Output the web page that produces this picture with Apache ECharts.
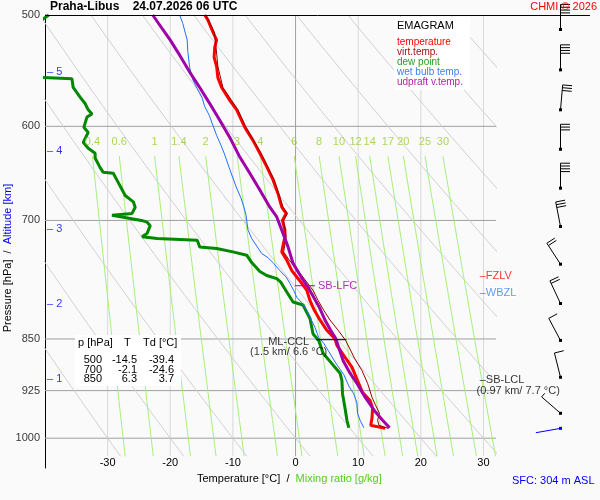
<!DOCTYPE html>
<html>
<head>
<meta charset="utf-8">
<script src="https://cdn.jsdelivr.net/npm/echarts@6/dist/echarts.min.js"></script>
<style>
  html, body { margin: 0; padding: 0; background: #fafafa; }
  #chart { width: 600px; height: 500px; }
</style>
</head>
<body>
<div id="chart"></div>
<script>
// ---- sounding: pressure [hPa] and temperature [°C] ----
var tempP = [500,504,514,521,527,536,544,554,563,575,584,601,614,627,641,655,670,685,692,700,711,719,729,737,747,760,772,785,798,811,824,838,850,859,876,890,910,928,940,952,968,979,984];
var tempT = [-14.5,-14.0,-13.2,-12.6,-12.9,-13.0,-12.6,-12.4,-11.8,-10.5,-9.4,-8.1,-6.8,-5.7,-4.6,-3.6,-2.8,-2.2,-1.5,-2.1,-1.7,-1.7,-2.0,-2.2,-1.4,-0.6,0.6,1.8,2.3,3.0,3.9,5.0,6.3,6.6,7.9,9.0,9.9,10.7,11.9,12.3,12.2,12.0,14.3];

var virtP = [500,514,527,544,563,584,601,627,655,685,692,700,719,737,747,760,785,798,811,824,838,852,877,895,914,935,948,960,971,979,984];
var virtT = [-14.3,-13.0,-12.7,-12.4,-11.6,-9.2,-7.9,-5.5,-3.4,-2.0,-1.3,-1.9,-1.5,-1.9,-1.0,0.4,2.8,3.6,4.5,5.5,6.8,8.0,9.4,10.6,11.5,12.2,12.8,13.4,13.1,13.3,14.8];

var dewP = [500,506,530,553,555,563,572,578,584,588,591,601,606,616,622,627,632,642,647,648,658,672,679,685,692,694,696,700,702,706,715,719,721,723,731,733,737,741,750,761,766,770,774,787,800,804,814,822,843,852,870,885,899,910,930,952,971,983];
var dewT = [-39.4,-41,-43,-44,-35.7,-35.5,-34.4,-33.6,-33.1,-32.5,-33.3,-33.8,-33.1,-33.9,-33.1,-32.0,-32.0,-31.2,-30.7,-29.1,-28.3,-27.2,-25.9,-25.6,-26.1,-29.3,-29.6,-24.6,-23.7,-23.2,-23.7,-24.5,-22.1,-15.7,-15.3,-12.6,-10.0,-7.8,-7.0,-5.7,-4.6,-3.0,-2.4,-1.4,-0.4,1.2,1.8,2.3,2.8,3.7,4.4,5.8,7.1,7.4,7.5,7.9,8.2,8.5];

var wetP = [500,507,521,531,545,556,564,573,581,589,599,609,619,627,642,653,664,675,686,694,700,711,721,730,739,744,751,760,768,776,785,794,801,811,820,834,848,856,866,884,901,918,930,944,960,971,983];
var wetT = [-18.5,-18.0,-17.3,-17.2,-16.9,-16.4,-15.7,-14.9,-14.5,-13.8,-13.2,-12.6,-11.9,-11.4,-10.6,-10.0,-9.4,-8.7,-8.2,-7.9,-7.8,-7.6,-7.0,-6.2,-5.4,-4.4,-3.5,-2.5,-1.5,-0.9,-0.3,0.2,1.0,1.8,2.3,3.1,3.7,4.5,5.2,6.4,7.7,8.5,9.3,9.8,9.9,10.3,10.9];

var parcelP = [500,512,521,534,549,563,578,594,611,631,648,666,685,696,715,731,751,768,781,794,807,824,838,849,881,899,914,935,956,971,983];
var parcelT = [-22.8,-21.2,-20.0,-18.5,-16.9,-15.3,-13.7,-12.1,-10.5,-8.9,-7.3,-5.7,-4.1,-3.0,-2.0,-1.2,-0.4,0.9,2.0,2.9,3.8,4.7,5.6,6.4,7.6,8.7,9.8,11.1,12.6,13.9,15.0];

// ---- wind (0.5 km steps from surface) ----
var barbP   = [984,960,905,852,802,752,707,664,623,584,547,512];
var barbDir = [260,311,346,332,335,327,349,0,0,5,0,0];
var barbSpd = [2,5,10,10,20,20,30,40,30,30,40,40];

// ---- altitude marks ----
var altKm = [1,2,3,4,5];
var altP  = [907,803,710,625,549];

// ---- table ----
var tableP  = [500,700,850];
var tableT  = [-14.5,-2.1,6.3];
var tableTd = [-39.4,-24.6,3.7];

// ---- diagram background ----
var isobars   = [500,600,700,850,925,1000];
var isotherms = [-30,-20,-10,0,10,20,30];
var thetaC    = [-30,-20,-10,0,10,20,30,40,50,60,70,80,90,100];
var mixRatios = [0.4,0.6,1,1.4,2,3,4,6,8,10,12,14,17,20,25,30];

// ---- levels ----
var fzlvP = 767, wbzlP = 788, sbLfcP = 779, mlCclP = 851, sbLclP = 909;

var FONT = 'Liberation Sans, Arial, sans-serif';

function zip(ts, ps) { return ts.map(function (t, i) { return [t, ps[i]]; }); }
function dryAdiabat(thC, p) { return (thC + 273.15) * Math.pow(p / 1000, 0.2857) - 273.15; }
function mixTemp(w, p) {
  var e = w * p / (622 + w);
  var a = Math.log(e / 6.112);
  return 243.5 * a / (17.67 - a);
}
var pSteps = [];
for (var p = 500; p <= 1030; p += 10) pSteps.push(p);

var series = [];

isotherms.forEach(function (t) {
  series.push({ type: 'line', data: [[t, 500], [t, 1030]], symbol: 'none', silent: true, z: 1,
    lineStyle: { color: t === 0 ? '#a0a0a0' : '#d8d8d8', width: 1 } });
});
isobars.slice(1).forEach(function (pp) {
  series.push({ type: 'line', data: [[-40, pp], [32, pp]], symbol: 'none', silent: true, z: 1,
    lineStyle: { color: '#a0a0a0', width: 1 } });
});
thetaC.forEach(function (th) {
  series.push({ type: 'line', symbol: 'none', silent: true, z: 1,
    data: pSteps.map(function (pp) { return [dryAdiabat(th, pp), pp]; }),
    lineStyle: { color: '#d0d0d0', width: 1 } });
});
mixRatios.forEach(function (w) {
  series.push({ type: 'line', symbol: 'none', silent: true, z: 1,
    data: pSteps.filter(function (pp) { return pp >= 630; }).map(function (pp) { return [mixTemp(w, pp), pp]; }),
    lineStyle: { color: '#a6f07a', width: 1 } });
});

// labels
series.push({ type: 'scatter', symbolSize: 0, silent: true, clip: false, z: 5,
  data: mixRatios.map(function (w) { return { name: String(w), value: [mixTemp(w, 630), 615.7] }; }),
  label: { show: true, position: 'inside', formatter: '{b}', color: '#99cc33', fontSize: 11, fontFamily: FONT } });
series.push({ type: 'scatter', symbolSize: 0, silent: true, clip: false, z: 5,
  data: isobars.map(function (pp) { return { name: String(pp), value: [-40, pp] }; }),
  label: { show: true, position: 'left', distance: 5, formatter: '{b}', color: '#000', fontSize: 11, fontFamily: FONT } });
series.push({ type: 'scatter', symbolSize: 0, silent: true, clip: false, z: 5,
  data: altKm.map(function (k, i) { return { name: String(k), value: [-40, altP[i]] }; }),
  label: { show: true, position: 'right', distance: 2, formatter: '\u2013 {b}', color: '#0000ff', fontSize: 11, fontFamily: FONT } });

// profiles
series.push({ name: 'dew point', type: 'line', symbol: 'none', z: 3, data: zip(dewT, dewP), lineStyle: { color: '#008800', width: 3 } });
series.push({ name: 'wet bulb temp.', type: 'line', symbol: 'none', z: 3, data: zip(wetT, wetP), lineStyle: { color: '#1f6fff', width: 1 } });
series.push({ name: 'temperature', type: 'line', symbol: 'none', z: 3, data: zip(tempT, tempP), lineStyle: { color: '#ff0000', width: 3 } });
series.push({ name: 'virt.temp.', type: 'line', symbol: 'none', z: 3, data: zip(virtT, virtP), lineStyle: { color: '#990000', width: 1 } });
series.push({ name: 'udpraft v.temp.', type: 'line', symbol: 'none', z: 3, data: zip(parcelT, parcelP), lineStyle: { color: '#a000a8', width: 3 } });

// level annotations
series.push({ type: 'line', symbol: 'none', silent: true, z: 4, data: [[-0.1, sbLfcP], [3.1, sbLfcP]], lineStyle: { color: '#a000a8', width: 1 } });
series.push({ type: 'line', symbol: 'none', silent: true, z: 4, data: [[3.3, mlCclP], [8.1, mlCclP]], lineStyle: { color: '#000', width: 1 } });
series.push({ type: 'scatter', symbolSize: 0, silent: true, clip: false, z: 5,
  data: [
    { value: [3.1, sbLfcP], label: { formatter: 'SB-LFC', color: '#a000a8', position: 'right', distance: 3 } },
    { value: [-1.1, mlCclP + 10], label: { formatter: 'ML-CCL\n(1.5 km/ 6.6 \u00b0C)', color: '#000', position: 'inside', lineHeight: 10 } },
    { value: [29.4, sbLclP], label: { formatter: '\u2013SB-LCL', color: '#000', position: 'right', distance: 0 } },
    { value: [28.9, 925.6], label: { formatter: '(0.97 km/ 7.7 \u00b0C)', color: '#000', position: 'right', distance: 0 } },
    { value: [29.4, fzlvP], label: { formatter: '{t|\u2013}{b|FZLV}', color: '#ff0000', position: 'right', distance: 0,
        rich: { t: { color: '#ff0000', fontSize: 11 }, b: { color: '#ff0000', fontSize: 11, backgroundColor: '#fff' } } } },
    { value: [29.4, wbzlP], label: { formatter: '{t|\u2013}{b|WBZL}', color: '#1f6fff', position: 'right', distance: 0,
        rich: { t: { color: '#1f6fff', fontSize: 11 }, b: { color: '#3a7ff0', fontSize: 11, backgroundColor: '#fff' } } } }
  ],
  label: { show: true, fontSize: 11, fontFamily: FONT } });

// wind barbs
series.push({
  type: 'custom', xAxisIndex: 1, yAxisIndex: 1, clip: false, silent: true, z: 5,
  data: barbP.map(function (pp, i) { return [0, pp, barbDir[i], barbSpd[i]]; }),
  encode: { x: 0, y: 1 },
  renderItem: function (params, api) {
    var c = api.coord([api.value(0), api.value(1)]);
    var d = api.value(2) * Math.PI / 180, s = api.value(3);
    var col = params.dataIndex === 0 ? '#0000ff' : '#000';
    var ux = Math.sin(d), uy = -Math.cos(d);
    var fx = -uy, fy = ux;
    var L = 25, F = 9.5, gap = 2.8;
    var tip = [c[0] + ux * L, c[1] + uy * L];
    var kids = [
      { type: 'line', shape: { x1: c[0], y1: c[1], x2: tip[0], y2: tip[1] }, style: { stroke: col, lineWidth: 1 } },
      { type: 'rect', shape: { x: c[0] - 1.5, y: c[1] - 1.5, width: 3, height: 3 }, style: { fill: col } }
    ];
    var rest = s, k = 0;
    while (rest >= 10) {
      var bx = tip[0] - ux * gap * k, by = tip[1] - uy * gap * k;
      kids.push({ type: 'line', shape: { x1: bx, y1: by, x2: bx + fx * F, y2: by + fy * F }, style: { stroke: col, lineWidth: 1 } });
      rest -= 10; k++;
    }
    if (rest >= 5) {
      var hx = tip[0] - ux * gap * k, hy = tip[1] - uy * gap * k;
      kids.push({ type: 'line', shape: { x1: hx, y1: hy, x2: hx + fx * F / 2, y2: hy + fy * F / 2 }, style: { stroke: col, lineWidth: 1 } });
    }
    return { type: 'group', children: kids };
  }
});

var graphics = [
  { type: 'line', shape: { x1: 45, y1: 15.5, x2: 590, y2: 15.5 }, style: { stroke: '#000', lineWidth: 1 }, z: 10 },
  { type: 'rect', shape: { x: 394, y: 17, width: 76, height: 73 }, style: { fill: '#fff' }, z: 3 },
  { type: 'rect', shape: { x: 75, y: 335, width: 106, height: 51 }, style: { fill: '#fff' }, z: 3 },
  { type: 'text', x: 78, y: 343, z: 5, style: { text: 'p [hPa]', font: '11px ' + FONT, fill: '#000', verticalAlign: 'middle' } },
  { type: 'text', x: 124, y: 343, z: 5, style: { text: 'T', font: '11px ' + FONT, fill: '#000', verticalAlign: 'middle' } },
  { type: 'text', x: 143, y: 343, z: 5, style: { text: 'Td [\u00b0C]', font: '11px ' + FONT, fill: '#000', verticalAlign: 'middle' } },
  { type: 'text', x: 197, y: 479, z: 5, style: { text: '{a|Temperature [\u00b0C]  /  }{b|Mixing ratio [g/kg]}', verticalAlign: 'middle',
      rich: { a: { fill: '#000', font: '11px ' + FONT }, b: { fill: '#55cc22', font: '11px ' + FONT } } } },
  { type: 'text', x: 8, y: 258, rotation: Math.PI / 2, z: 5, style: { text: '{a|Pressure [hPa]  /  }{b|Altitude [km]}', align: 'center', verticalAlign: 'middle',
      rich: { a: { fill: '#000', font: '11px ' + FONT }, b: { fill: '#0000ff', font: '11px ' + FONT } } } }
];
tableP.forEach(function (pp, i) {
  var y = 360 + i * 9.5;
  graphics.push({ type: 'text', x: 102, y: y, z: 5, style: { text: String(pp), font: '11px ' + FONT, fill: '#000', align: 'right', verticalAlign: 'middle' } });
  graphics.push({ type: 'text', x: 137, y: y, z: 5, style: { text: tableT[i].toFixed(1), font: '11px ' + FONT, fill: '#000', align: 'right', verticalAlign: 'middle' } });
  graphics.push({ type: 'text', x: 174, y: y, z: 5, style: { text: tableTd[i].toFixed(1), font: '11px ' + FONT, fill: '#000', align: 'right', verticalAlign: 'middle' } });
});

var chart = echarts.init(document.getElementById('chart'));
chart.setOption({
  animation: false,
  backgroundColor: '#fafafa',
  textStyle: { fontFamily: FONT },
  title: [
    { text: 'Praha-Libus    24.07.2026 06 UTC', left: 50, top: 1, padding: 0,
      textStyle: { fontSize: 12, fontWeight: 'bold', color: '#000', fontFamily: FONT } },
    { text: 'CHMI \u00a9 2026', right: 3, top: 1, padding: 0,
      textStyle: { fontSize: 11, fontWeight: 'normal', color: '#ff0000', fontFamily: FONT } },
    { text: 'EMAGRAM', left: 397, top: 20, padding: 0,
      textStyle: { fontSize: 11, fontWeight: 'normal', color: '#000', fontFamily: FONT } },
    { text: 'SFC: 304 m ASL', left: 512, top: 475, padding: 0,
      textStyle: { fontSize: 11, fontWeight: 'normal', color: '#0000ff', fontFamily: FONT } }
  ],
  legend: {
    orient: 'vertical', left: 392, top: 37, padding: 0, itemGap: 0, itemWidth: 0, itemHeight: 10,
    icon: 'rect', selectedMode: false,
    textStyle: { fontSize: 10, lineHeight: 10, fontFamily: FONT },
    data: [
      { name: 'temperature', textStyle: { color: '#ff0000' } },
      { name: 'virt.temp.', textStyle: { color: '#a01010' } },
      { name: 'dew point', textStyle: { color: '#22a022' } },
      { name: 'wet bulb temp.', textStyle: { color: '#3a7ff0' } },
      { name: 'udpraft v.temp.', textStyle: { color: '#b020b0' } }
    ]
  },
  grid: [
    { left: 45, top: 15, width: 451, height: 453 },
    { left: 540, top: 15, width: 41, height: 453 }
  ],
  xAxis: [
    { type: 'value', gridIndex: 0, min: -40, max: 32, interval: 10,
      axisLine: { show: false, onZero: false }, axisTick: { show: false }, splitLine: { show: false },
      axisLabel: { inside: true, margin: 0, color: '#000', fontSize: 11, fontFamily: FONT,
        formatter: function (v) { return (v >= -30 && v <= 30 && v % 10 === 0) ? String(v) : ''; } } },
    { type: 'value', gridIndex: 1, min: -1, max: 1, show: false }
  ],
  yAxis: [
    { type: 'log', gridIndex: 0, min: 500, max: 1050, inverse: true,
      axisLine: { show: true, onZero: false, lineStyle: { color: '#000', width: 1 } },
      axisTick: { show: false }, axisLabel: { show: false }, splitLine: { show: false }, minorSplitLine: { show: false } },
    { type: 'log', gridIndex: 1, min: 500, max: 1050, inverse: true, show: false }
  ],
  graphic: graphics,
  series: series
});
</script>
</body>
</html>
